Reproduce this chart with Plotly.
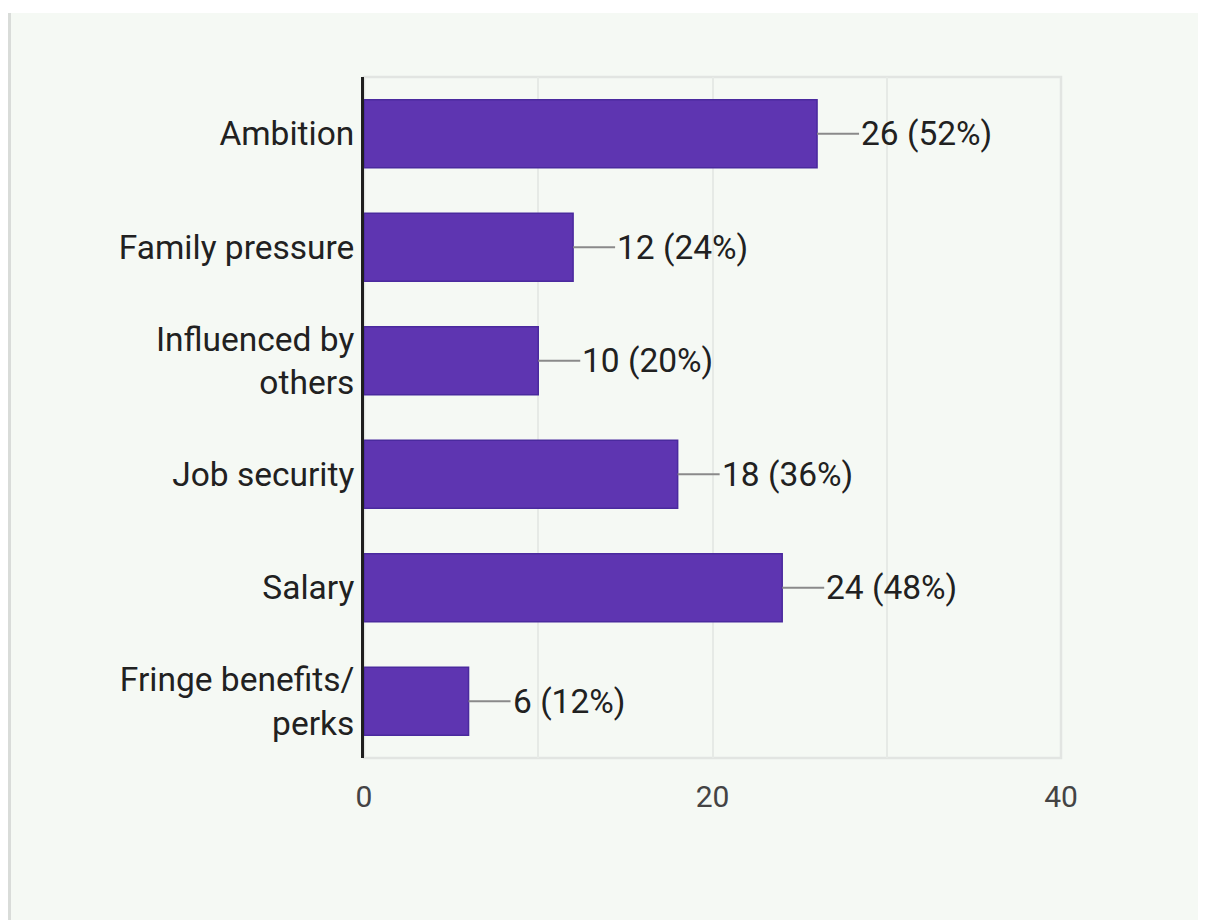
import plotly.graph_objects as go

categories = ["Ambition", "Family pressure", "Influenced by<br>others", "Job security", "Salary", "Fringe benefits/<br>perks"]
counts = [26, 12, 10, 18, 24, 6]
percents = [52, 24, 20, 36, 48, 12]
tick_vals = [0, 10, 20, 30, 40]
tick_text = ["0", "", "20", "", "40"]

# the page body adds an 8px margin; figure sized to fit the window
W, H = 1198, 912
L, R, T, B = 356, 145, 69, 162
pw, ph = W - L - R, H - T - B

BG = "#f5f9f4"
FONT = "Roboto"

fig = go.Figure(go.Bar(
    y=categories, x=counts, orientation="h", width=0.6,
    marker=dict(color="#5e35b1", line=dict(color="#4a2a9e", width=1.5)),
    hoverinfo="skip",
))

for c, v, p in zip(categories, counts, percents):
    fig.add_annotation(
        x=v, y=c, xref="x", yref="y", text=f"{v} ({p}%)",
        showarrow=True, arrowhead=0, arrowwidth=2, arrowcolor="#8a8a8a",
        ax=42, ay=0, xanchor="left", standoff=0,
        font=dict(family=FONT, size=33.5, color="#212121"),
    )

# page decorations: white strip at top and grey left border
fig.add_shape(type="rect", xref="paper", yref="paper",
              x0=-L / pw, x1=(W - L) / pw, y0=1 + (T - 5) / ph, y1=1 + T / ph,
              fillcolor="white", line=dict(width=0), layer="below")
fig.add_shape(type="rect", xref="paper", yref="paper",
              x0=-L / pw, x1=(3 - L) / pw, y0=-B / ph, y1=1 + (T - 5) / ph,
              fillcolor="#d9dcd9", line=dict(width=0), layer="below")
# plot frame (top/right/bottom light border)
fig.add_shape(type="rect", xref="paper", yref="paper", x0=0, x1=1, y0=0, y1=1,
              line=dict(color="#e2e5e2", width=2.5), fillcolor="rgba(0,0,0,0)", layer="below")

fig.update_layout(
    width=W, height=H,
    margin=dict(l=L, r=R, t=T, b=B),
    paper_bgcolor=BG, plot_bgcolor=BG,
    showlegend=False,
    font=dict(family=FONT, size=33.5, color="#212121"),
    xaxis=dict(range=[0, 40], tickvals=tick_vals, ticktext=tick_text,
               showgrid=True, gridcolor="#e6eae6", gridwidth=1.5,
               zeroline=False, showline=False, ticks="",
               tickfont=dict(family=FONT, size=30, color="#444444"),
               ticklabelstandoff=18, fixedrange=True),
    yaxis=dict(autorange="reversed", showgrid=False, zeroline=False,
               showline=True, linecolor="#1f1f1f", linewidth=3, ticks="",
               tickfont=dict(family=FONT, size=33.5, color="#212121"),
               ticklabelstandoff=0, fixedrange=True),
)

fig.write_html("out.html")
